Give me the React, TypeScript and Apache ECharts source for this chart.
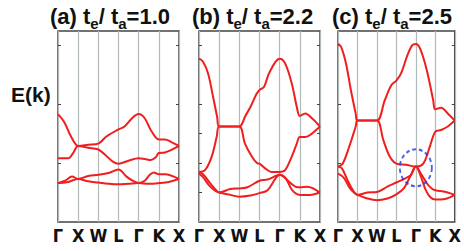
import React, { useEffect, useRef } from "react";
import * as echarts from "echarts";

// High-symmetry path labels (one per x tick 0..6)
const kLabels = ["Γ", "X", "W", "L", "Γ", "K", "X"];
const panelTags = ["(a)", "(b)", "(c)"];
const ratioLabels = ["1.0", "2.2", "2.5"];

// Panel (a): t_e/t_a = 1.0   [k, E]
const a1 = [[0,1.83],[0.3,1.70],[0.6,1.48],[0.85,1.33],[1,1.29],[1.5,1.31],[2,1.33],[2.4,1.45],[3,1.57],[3.3,1.62],[3.7,1.77],[4,1.83],[4.3,1.76],[4.6,1.56],[5,1.40],[5.3,1.40],[5.6,1.36],[6,1.29]];
const a2 = [[0,1.08],[0.5,1.08],[0.75,1.17],[1,1.29],[1.5,1.26],[2,1.23],[2.4,1.12],[2.7,1.03],[3,0.99],[3.5,1.04],[4,1.08],[4.3,1.07],[4.6,1.05],[4.85,1.10],[5,1.17],[5.3,1.18],[5.6,1.22],[6,1.29]];
const a3 = [[0,0.66],[0.35,0.70],[0.7,0.77],[1,0.73],[1.5,0.78],[2,0.80],[2.5,0.83],[3,0.89],[3.4,0.77],[3.7,0.70],[4,0.66],[4.3,0.70],[4.55,0.80],[4.75,0.84],[5,0.81],[5.3,0.81],[5.6,0.79],[6,0.73]];
const a4 = [[0,0.66],[0.5,0.68],[1,0.73],[1.5,0.69],[2,0.67],[2.5,0.65],[3,0.64],[3.5,0.65],[4,0.66],[4.5,0.65],[5,0.66],[5.5,0.68],[6,0.73]];

// Panel (b): t_e/t_a = 2.2
const b1 = [[0,2.77],[0.2,2.72],[0.45,2.52],[0.7,2.12],[0.9,1.78],[1,1.62],[1.5,1.62],[2,1.62],[2.3,1.80],[2.55,1.95],[2.85,2.17],[3,2.24],[3.22,2.29],[3.47,2.52],[3.8,2.72],[4,2.77],[4.27,2.69],[4.6,2.35],[4.85,1.95],[5,1.80],[5.27,1.84],[5.6,1.76],[6,1.62]];
const b2 = [[0,0.85],[0.3,0.88],[0.63,1.11],[0.88,1.45],[1,1.62],[1.5,1.62],[2,1.62],[2.28,1.33],[2.62,1.11],[2.87,1.00],[3,0.99],[3.28,0.91],[3.6,0.85],[4,0.85],[4.27,0.88],[4.6,1.11],[4.85,1.33],[5,1.44],[5.27,1.44],[5.6,1.50],[6,1.62]];
const b3 = [[0,0.85],[0.2,0.81],[0.55,0.66],[0.85,0.54],[1,0.50],[1.55,0.56],[2,0.57],[2.4,0.59],[3,0.70],[3.4,0.72],[3.8,0.78],[4,0.80],[4.2,0.77],[4.54,0.66],[4.87,0.59],[5,0.59],[5.37,0.60],[6,0.50]];
const b4 = [[0,0.82],[0.2,0.76],[0.5,0.62],[0.8,0.53],[1,0.50],[1.55,0.46],[2,0.43],[2.55,0.45],[3,0.49],[3.4,0.54],[3.8,0.74],[4,0.80],[4.3,0.74],[4.62,0.54],[5,0.46],[5.5,0.46],[6,0.50]];

// Panel (c): t_e/t_a = 2.5
const c1 = [[0,3.02],[0.16,2.97],[0.41,2.69],[0.66,2.24],[0.91,1.84],[1,1.72],[1.5,1.72],[2,1.72],[2.41,2.07],[2.74,2.32],[3,2.40],[3.24,2.52],[3.57,2.83],[3.82,3.0],[4,3.02],[4.22,2.94],[4.56,2.58],[4.89,2.07],[5,1.91],[5.3,1.94],[5.64,1.84],[6,1.72]];
const c2 = [[0,0.94],[0.24,0.99],[0.58,1.28],[0.91,1.62],[1,1.72],[1.5,1.72],[2,1.72],[2.33,1.39],[2.66,1.11],[3,0.99],[3.5,0.97],[4,0.94],[4.38,0.99],[4.72,1.28],[5,1.53],[5.3,1.56],[5.64,1.62],[6,1.72]];
const c3 = [[0,0.94],[0.2,0.91],[0.5,0.70],[0.8,0.52],[1,0.46],[1.5,0.50],[2,0.51],[2.54,0.60],[3,0.67],[3.46,0.74],[3.75,0.80],[4,0.94],[4.3,0.80],[4.6,0.64],[4.85,0.56],[5,0.54],[5.55,0.51],[6,0.46]];
const c4 = [[0,0.82],[0.3,0.75],[0.6,0.58],[0.85,0.49],[1,0.46],[1.5,0.40],[2,0.37],[2.54,0.40],[3,0.47],[3.38,0.57],[3.71,0.77],[4,0.94],[4.25,0.78],[4.5,0.55],[4.75,0.42],[5,0.38],[5.5,0.39],[6,0.46]];

// Highlighted touching point in panel (c)
const circledPoint = [[4, 0.92]];

const panelBands = [
  [a1, a2, a3, a4],
  [b1, b2, b3, b4],
  [c1, c2, c3, c4],
];
const yTickValues = [
  [1, 2, 3],
  [0.5, 1, 1.5, 2, 3],
  [1, 2, 3],
];

export default function App() {
  const ref = useRef<HTMLDivElement>(null);
  useEffect(() => {
    const chart = echarts.init(ref.current!, null, { renderer: "svg" });
    const lefts = [58, 199, 338];
    const red = "#f01e1e";
    const frame = "#444";
    const sans = "'Liberation Sans', Arial, sans-serif";
    const narrow = "'Liberation Sans Narrow', 'DejaVu Sans Condensed', sans-serif";

    const grid = lefts.map((l) => ({
      left: l, top: 31, width: 121, height: 191,
      show: true, borderColor: frame, borderWidth: 1.5,
      backgroundColor: "transparent",
    }));
    const xAxis = lefts.map((_, i) => ({
      type: "value", gridIndex: i, min: 0, max: 6, interval: 1,
      axisLine: { show: false }, axisTick: { show: false },
      splitLine: { show: true, lineStyle: { color: "#b2baba", width: 1.2 } },
      axisLabel: {
        formatter: (v: number) => kLabels[Math.round(v)] ?? "",
        fontFamily: narrow, fontWeight: "bold", fontSize: 18, color: "#111", margin: 4,
        showMinLabel: true, showMaxLabel: true,
      },
    }));
    const yAxis: any[] = [];
    lefts.forEach((_, i) => {
      ["left", "right"].forEach((pos) => {
        yAxis.push({
          type: "value", gridIndex: i, min: 0, max: 3.24, interval: 1, position: pos,
          axisLine: { show: false },
          axisTick: { show: true, inside: true, length: 3, customValues: yTickValues[i], lineStyle: { color: frame, width: 1 } },
          axisLabel: { show: false }, splitLine: { show: false },
        });
      });
    });

    const series: any[] = [];
    panelBands.forEach((bands, i) => {
      bands.forEach((band) => {
        series.push({
          type: "line", xAxisIndex: i, yAxisIndex: i * 2, data: band,
          smooth: 0.35, symbol: "none",
          lineStyle: { color: red, width: 2 },
        });
      });
    });
    series.push({
      type: "scatter", xAxisIndex: 2, yAxisIndex: 4, data: circledPoint,
      symbol: "circle", symbolSize: [32, 37], z: 5,
      itemStyle: { color: "rgba(0,0,0,0)", borderColor: "#2536e6", borderWidth: 2, borderType: [4, 3] },
    });

    const title = lefts.map((_, i) => ({
      left: [45, 187, 327][i], top: -4,
      text: `{n|${panelTags[i]} t}{s|e}{n|/ t}{s|a}{n|=${ratioLabels[i]}}`,
      textStyle: {
        rich: {
          n: { fontSize: 22, fontWeight: "bold", fontFamily: sans, color: "#111", lineHeight: 30, verticalAlign: "middle" },
          s: { fontSize: 15, fontWeight: "bold", fontFamily: sans, color: "#111", lineHeight: 30, verticalAlign: "bottom" },
        },
      },
    }));
    title.push({
      left: 6, top: 79, text: "E(k)",
      textStyle: { fontSize: 21, fontWeight: "bold", fontFamily: sans, color: "#111" } as any,
    } as any);

    chart.setOption({
      animation: false,
      backgroundColor: "#fff",
      title, grid, xAxis, yAxis, series,
    });
    return () => chart.dispose();
  }, []);
  return <div ref={ref} style={{ position: "fixed", left: 0, top: 0, width: 464, height: 251 }} />;
}
